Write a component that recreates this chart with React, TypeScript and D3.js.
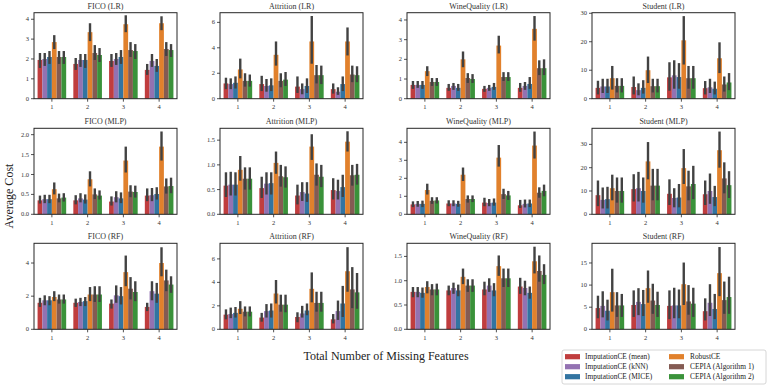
import React from 'react';
import * as d3 from 'd3';

const groups = ['1', '2', '3', '4'];
const methods = [
  'ImputationCE (mean)',
  'ImputationCE (kNN)',
  'ImputationCE (MICE)',
  'RobustCE',
  'CEPIA (Algorithm 1)',
  'CEPIA (Algorithm 2)',
];
const colors = ['#c03d3e', '#9372b2', '#3274a1', '#e1812c', '#845b53', '#3a923a'];

// ---- FICO (LR)
const ficoLR_mean = [[1.95, 2.0, 2.1, 2.85, 2.1, 2.1], [1.75, 1.95, 1.95, 3.35, 2.3, 2.2], [1.9, 2.0, 2.1, 3.75, 2.45, 2.4], [1.45, 1.9, 1.65, 3.8, 2.5, 2.45]];
const ficoLR_lo = [[1.55, 1.65, 1.75, 2.5, 1.75, 1.75], [1.45, 1.6, 1.55, 2.9, 1.95, 1.85], [1.6, 1.7, 1.75, 3.35, 2.1, 2.0], [1.2, 1.6, 1.35, 3.45, 2.15, 2.1]];
const ficoLR_hi = [[2.3, 2.3, 2.4, 3.2, 2.4, 2.4], [2.05, 2.25, 2.25, 3.8, 2.7, 2.55], [2.25, 2.3, 2.45, 4.2, 2.85, 2.75], [1.75, 2.25, 2.0, 4.15, 2.85, 2.75]];
// ---- Attrition (LR)
const attLR_mean = [[1.2, 1.15, 1.25, 2.3, 1.4, 1.4], [1.15, 1.0, 1.05, 3.45, 1.4, 1.5], [0.95, 0.75, 1.0, 4.5, 1.85, 1.85], [0.75, 0.55, 1.15, 4.5, 1.9, 1.85]];
const attLR_lo = [[0.75, 0.75, 0.8, 1.6, 0.95, 0.95], [0.6, 0.55, 0.6, 2.6, 0.9, 1.0], [0.45, 0.35, 0.45, 2.75, 1.2, 1.15], [0.4, 0.3, 0.6, 3.4, 1.3, 1.3]];
const attLR_hi = [[1.65, 1.6, 1.75, 3.15, 2.0, 1.9], [1.8, 1.55, 1.6, 4.5, 2.0, 2.1], [1.75, 1.2, 1.6, 6.5, 2.65, 2.6], [1.2, 0.9, 1.75, 5.6, 2.6, 2.55]];
// ---- WineQuality (LR)
const wineLR_mean = [[0.7, 0.7, 0.7, 1.4, 0.85, 0.85], [0.55, 0.65, 0.55, 2.0, 1.05, 1.0], [0.5, 0.55, 0.6, 2.7, 1.1, 1.1], [0.55, 0.65, 0.75, 3.55, 1.55, 1.55]];
const wineLR_lo = [[0.5, 0.55, 0.5, 1.15, 0.65, 0.65], [0.4, 0.45, 0.4, 1.6, 0.8, 0.8], [0.35, 0.4, 0.45, 2.3, 0.9, 0.9], [0.35, 0.45, 0.5, 2.95, 1.2, 1.2]];
const wineLR_hi = [[0.9, 0.9, 0.9, 1.65, 1.05, 1.05], [0.75, 0.8, 0.75, 2.4, 1.3, 1.25], [0.65, 0.7, 0.8, 3.2, 1.35, 1.35], [0.8, 0.85, 1.1, 4.2, 1.95, 2.0]];
// ---- Student (LR)
const stuLR_mean = [[3.8, 4.3, 4.3, 7.2, 4.5, 4.5], [4.1, 3.0, 3.8, 10.0, 4.4, 4.4], [7.5, 8.2, 7.6, 20.5, 7.2, 7.2], [3.7, 4.0, 3.5, 14.2, 5.0, 5.7]];
const stuLR_lo = [[1.5, 2.0, 2.0, 3.2, 2.2, 2.2], [1.5, 1.2, 1.8, 5.5, 2.2, 2.2], [2.8, 3.5, 3.5, 12.0, 3.5, 3.5], [1.5, 2.0, 1.5, 9.0, 2.5, 3.0]];
const stuLR_hi = [[6.3, 7.0, 7.0, 11.5, 7.2, 7.2], [7.8, 5.4, 6.5, 14.8, 7.0, 7.0], [12.8, 13.5, 12.5, 29.0, 11.5, 11.5], [6.2, 7.0, 6.0, 19.8, 7.8, 9.0]];
// ---- FICO (MLP)
const ficoMLP_mean = [[0.35, 0.38, 0.38, 0.63, 0.4, 0.42], [0.35, 0.4, 0.37, 0.88, 0.5, 0.47], [0.32, 0.43, 0.4, 1.35, 0.57, 0.56], [0.47, 0.48, 0.51, 1.7, 0.7, 0.71]];
const ficoMLP_lo = [[0.27, 0.28, 0.28, 0.5, 0.3, 0.32], [0.25, 0.3, 0.27, 0.7, 0.38, 0.37], [0.22, 0.3, 0.28, 1.05, 0.43, 0.42], [0.33, 0.33, 0.37, 1.35, 0.52, 0.53]];
const ficoMLP_hi = [[0.47, 0.49, 0.49, 0.8, 0.52, 0.53], [0.48, 0.53, 0.5, 1.08, 0.65, 0.6], [0.45, 0.58, 0.55, 1.7, 0.73, 0.72], [0.65, 0.66, 0.68, 2.08, 0.9, 0.92]];
// ---- Attrition (MLP)
const attMLP_mean = [[0.58, 0.6, 0.6, 0.9, 0.72, 0.72], [0.53, 0.62, 0.63, 1.04, 0.77, 0.75], [0.38, 0.45, 0.42, 1.37, 0.8, 0.76], [0.49, 0.47, 0.55, 1.47, 0.79, 0.8]];
const attMLP_lo = [[0.35, 0.38, 0.38, 0.68, 0.5, 0.5], [0.33, 0.4, 0.4, 0.82, 0.56, 0.54], [0.2, 0.27, 0.25, 1.1, 0.58, 0.55], [0.3, 0.3, 0.35, 1.27, 0.58, 0.6]];
const attMLP_hi = [[0.85, 0.86, 0.85, 1.18, 0.95, 0.95], [0.76, 0.85, 0.85, 1.27, 1.0, 0.97], [0.6, 0.65, 0.65, 1.62, 1.03, 1.0], [0.73, 0.7, 0.8, 1.68, 1.0, 1.02]];
// ---- WineQuality (MLP)
const wineMLP_mean = [[0.55, 0.58, 0.58, 1.35, 0.75, 0.77], [0.6, 0.6, 0.58, 2.2, 0.85, 0.85], [0.65, 0.63, 0.65, 3.15, 1.12, 1.05], [0.5, 0.58, 0.6, 3.82, 1.2, 1.3]];
const wineMLP_lo = [[0.4, 0.42, 0.4, 1.1, 0.58, 0.6], [0.45, 0.45, 0.42, 1.85, 0.65, 0.68], [0.45, 0.45, 0.48, 2.65, 0.85, 0.8], [0.35, 0.38, 0.4, 3.1, 0.92, 1.0]];
const wineMLP_hi = [[0.72, 0.74, 0.76, 1.7, 0.95, 0.95], [0.78, 0.78, 0.75, 2.6, 1.05, 1.05], [0.92, 0.85, 0.88, 3.85, 1.42, 1.3], [0.8, 0.82, 0.82, 4.6, 1.5, 1.65]];
// ---- Student (MLP)
const stuMLP_mean = [[8.2, 6.2, 6.5, 11.2, 10.0, 10.0], [10.8, 11.2, 10.0, 22.7, 12.3, 12.3], [8.8, 7.0, 7.2, 19.8, 12.0, 13.0], [8.6, 10.0, 7.4, 27.5, 15.4, 12.5]];
const stuMLP_lo = [[3.5, 2.5, 2.5, 6.0, 5.0, 5.0], [5.5, 5.5, 5.0, 15.0, 6.0, 6.0], [4.0, 3.0, 3.0, 13.0, 6.0, 6.5], [4.0, 4.5, 3.5, 20.0, 9.0, 7.0]];
const stuMLP_hi = [[14.5, 11.5, 11.8, 17.0, 15.8, 15.8], [17.2, 18.2, 15.8, 31.0, 19.5, 19.5], [15.0, 11.2, 13.0, 28.0, 18.7, 20.8], [14.5, 17.5, 12.2, 35.5, 22.3, 18.5]];
// ---- FICO (RF)
const ficoRF_mean = [[1.6, 1.75, 1.75, 1.95, 1.8, 1.8], [1.6, 1.65, 1.7, 2.1, 2.1, 2.1], [1.55, 2.05, 2.0, 3.45, 2.45, 2.25], [1.35, 2.3, 2.15, 4.0, 2.95, 2.7]];
const ficoRF_lo = [[1.35, 1.45, 1.45, 1.7, 1.55, 1.55], [1.35, 1.4, 1.4, 1.7, 1.65, 1.65], [1.25, 1.6, 1.5, 2.6, 1.8, 1.7], [1.1, 1.75, 1.6, 3.2, 2.3, 2.2]];
const ficoRF_hi = [[1.9, 2.05, 2.0, 2.3, 2.1, 2.1], [1.85, 1.9, 1.95, 2.55, 2.6, 2.6], [1.8, 2.65, 2.55, 4.45, 3.15, 2.9], [1.6, 2.9, 2.8, 4.95, 3.6, 3.2]];
// ---- Attrition (RF)
const attRF_mean = [[1.25, 1.3, 1.4, 1.75, 1.5, 1.5], [1.0, 1.55, 1.6, 3.05, 2.1, 2.1], [1.05, 1.35, 1.6, 3.45, 2.25, 2.25], [0.85, 1.55, 2.2, 4.95, 3.4, 3.15]];
const attRF_lo = [[0.85, 0.95, 1.0, 1.3, 1.1, 1.1], [0.65, 1.0, 1.0, 2.2, 1.5, 1.45], [0.6, 1.0, 1.2, 2.3, 1.5, 1.5], [0.5, 0.8, 1.05, 3.2, 1.8, 1.75]];
const attRF_hi = [[1.7, 1.85, 1.9, 2.4, 1.95, 1.95], [1.4, 2.15, 2.2, 4.2, 2.95, 2.95], [1.45, 2.0, 2.2, 4.85, 3.2, 3.2], [1.3, 2.45, 3.7, 7.0, 5.3, 4.8]];
// ---- WineQuality (RF)
const wineRF_mean = [[0.77, 0.77, 0.75, 0.87, 0.82, 0.82], [0.8, 0.85, 0.8, 1.08, 0.9, 0.9], [0.82, 0.9, 0.8, 1.3, 1.05, 1.05], [0.88, 0.85, 0.75, 1.4, 1.2, 1.12]];
const wineRF_lo = [[0.66, 0.66, 0.65, 0.74, 0.7, 0.7], [0.7, 0.73, 0.68, 0.93, 0.77, 0.77], [0.7, 0.77, 0.68, 1.1, 0.87, 0.87], [0.73, 0.7, 0.63, 1.15, 0.98, 0.93]];
const wineRF_hi = [[0.87, 0.87, 0.86, 0.99, 0.93, 0.94], [0.9, 0.96, 0.92, 1.25, 1.03, 1.03], [0.98, 1.05, 0.95, 1.52, 1.25, 1.25], [1.06, 1.0, 0.88, 1.7, 1.52, 1.34]];
// ---- Student (RF)
const stuRF_mean = [[4.8, 5.3, 4.2, 8.4, 5.4, 5.4], [5.5, 6.2, 5.7, 9.3, 6.5, 5.5], [5.3, 5.4, 5.4, 10.2, 6.3, 5.8], [4.1, 6.0, 4.6, 12.7, 6.6, 7.3]];
const stuRF_lo = [[2.5, 2.7, 2.0, 4.0, 2.8, 2.8], [2.8, 3.2, 3.0, 6.0, 3.5, 2.8], [2.3, 2.5, 2.5, 5.5, 3.3, 2.8], [2.0, 3.0, 2.3, 7.5, 3.5, 3.5]];
const stuRF_hi = [[7.6, 8.6, 6.7, 13.7, 8.4, 8.0], [8.8, 9.3, 8.9, 13.3, 10.3, 8.5], [8.8, 9.4, 9.0, 15.1, 10.0, 9.4], [7.0, 10.2, 8.0, 18.6, 10.8, 11.9]];

const titles = [
  'FICO (LR)', 'Attrition (LR)', 'WineQuality (LR)', 'Student (LR)',
  'FICO (MLP)', 'Attrition (MLP)', 'WineQuality (MLP)', 'Student (MLP)',
  'FICO (RF)', 'Attrition (RF)', 'WineQuality (RF)', 'Student (RF)',
];
const yMaxes = [4.33, 6.76, 4.37, 30.2, 2.16, 1.74, 4.78, 36.9, 5.19, 7.33, 1.77, 19.45];
const yTicks = [
  [0, 1, 2, 3, 4], [0, 2, 4, 6], [0, 1, 2, 3, 4], [0, 10, 20, 30],
  [0, 0.5, 1.0, 1.5, 2.0], [0, 0.5, 1.0, 1.5], [0, 1, 2, 3, 4], [0, 10, 20, 30],
  [0, 2, 4], [0, 2, 4, 6], [0, 0.5, 1.0, 1.5], [0, 5, 10, 15],
];
const tickDecimals = [0, 0, 0, 0, 1, 1, 0, 0, 0, 0, 1, 0];

const panelData = [
  [ficoLR_mean, ficoLR_lo, ficoLR_hi], [attLR_mean, attLR_lo, attLR_hi], [wineLR_mean, wineLR_lo, wineLR_hi], [stuLR_mean, stuLR_lo, stuLR_hi],
  [ficoMLP_mean, ficoMLP_lo, ficoMLP_hi], [attMLP_mean, attMLP_lo, attMLP_hi], [wineMLP_mean, wineMLP_lo, wineMLP_hi], [stuMLP_mean, stuMLP_lo, stuMLP_hi],
  [ficoRF_mean, ficoRF_lo, ficoRF_hi], [attRF_mean, attRF_lo, attRF_hi], [wineRF_mean, wineRF_lo, wineRF_hi], [stuRF_mean, stuRF_lo, stuRF_hi],
];

const FONT = "'Liberation Serif', 'DejaVu Serif', serif";
const colLefts = [34, 220, 407, 592];
const rowTops = [12.7, 128.3, 243.3];
const AX_W = 143;
const AX_H = 86;

function Panel({ idx }: { idx: number }) {
  const r = Math.floor(idx / 4);
  const c = idx % 4;
  const left = colLefts[c];
  const top = rowTops[r];
  const [mean, lo, hi] = panelData[idx];
  const x0 = d3.scaleBand().domain(groups).range([left, left + AX_W]).paddingInner(0.2).paddingOuter(0.1);
  const x1 = d3.scaleBand().domain(methods).range([0, x0.bandwidth()]).padding(0);
  const y = d3.scaleLinear().domain([0, yMaxes[idx]]).range([top + AX_H, top]);
  const fmt = d3.format(tickDecimals[idx] ? '.1f' : 'd');
  const bottom = top + AX_H;
  return (
    <g>
      <text x={left + AX_W / 2} y={top - 4} textAnchor="middle" fontSize={8} fontFamily={FONT} fill="#333">{titles[idx]}</text>
      {groups.map((g, gi) => (
        <g key={g}>
          {methods.map((m, mi) => {
            const bx = (x0(g) as number) + (x1(m) as number);
            return (
              <rect key={m} x={bx} y={y(mean[gi][mi])} width={x1.bandwidth()} height={bottom - y(mean[gi][mi])} fill={colors[mi]} />
            );
          })}
        </g>
      ))}
      {groups.map((g, gi) => (
        <g key={'e' + g}>
          {methods.map((m, mi) => {
            const cx = (x0(g) as number) + (x1(m) as number) + x1.bandwidth() / 2;
            return <line key={m} x1={cx} x2={cx} y1={y(lo[gi][mi])} y2={y(hi[gi][mi])} stroke="#424242" strokeWidth={2.4} />;
          })}
        </g>
      ))}
      <rect x={left} y={top} width={AX_W} height={AX_H} fill="none" stroke="#262626" strokeWidth={1} />
      {yTicks[idx].map((t) => (
        <g key={'y' + t}>
          <line x1={left - 3} x2={left} y1={y(t)} y2={y(t)} stroke="#262626" strokeWidth={0.8} />
          <text x={left - 5} y={y(t)} dy="0.32em" textAnchor="end" fontSize={6.5} fontFamily={FONT} fill="#333">{fmt(t)}</text>
        </g>
      ))}
      {groups.map((g) => {
        const cx = (x0(g) as number) + x0.bandwidth() / 2;
        return (
          <g key={'x' + g}>
            <line x1={cx} x2={cx} y1={bottom} y2={bottom + 3} stroke="#262626" strokeWidth={0.8} />
            <text x={cx} y={bottom + 10.5} textAnchor="middle" fontSize={6.5} fontFamily={FONT} fill="#333">{g}</text>
          </g>
        );
      })}
    </g>
  );
}

export default function App() {
  const legendCols = [
    { px: 565, tx: 585 },
    { px: 669, tx: 690 },
  ];
  const rowY = [356.7, 366.7, 376.7];
  return (
    <svg width={768} height={388} style={{ position: 'absolute', left: 0, top: 0, background: '#fff' }}>
      <rect width={768} height={388} fill="#fff" />
      {titles.map((_, i) => <Panel key={i} idx={i} />)}
      <text transform="translate(13,196) rotate(-90)" textAnchor="middle" fontSize={12} fontFamily={FONT} fill="#222">Average Cost</text>
      <text x={386} y={360} textAnchor="middle" fontSize={12} fontFamily={FONT} fill="#222">Total Number of Missing Features</text>
      <rect x={562} y={350} width={204} height={34} rx={2} fill="#fff" stroke="#cccccc" strokeWidth={0.8} />
      {methods.map((m, i) => {
        const col = legendCols[Math.floor(i / 3)];
        const ry = rowY[i % 3];
        return (
          <g key={m}>
            <rect x={col.px} y={ry - 2.6} width={15} height={5.2} fill={colors[i]} />
            <text x={col.tx} y={ry} dy="0.35em" fontSize={7.4} fontFamily={FONT} fill="#222">{m}</text>
          </g>
        );
      })}
    </svg>
  );
}
